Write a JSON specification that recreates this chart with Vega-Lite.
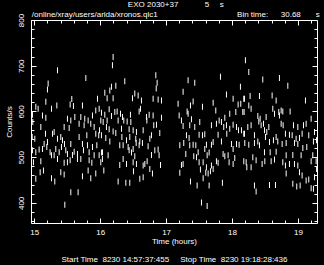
{
  "$schema": "https://vega.github.io/schema/vega-lite/v6.json",
  "autosize": "none",
  "width": 286,
  "height": 203,
  "padding": {"left": 31, "top": 20, "right": 7, "bottom": 42},
  "background": "black",
  "config": {
    "view": {"stroke": "white", "strokeWidth": 1},
    "font": "Liberation Sans",
    "axis": {"domain": false, "grid": false, "tickColor": "white", "tickWidth": 1, "labelColor": "white", "labelFont": "Liberation Sans", "labelFontSize": 8, "titleColor": "white", "titleFont": "Liberation Sans", "titleFontSize": 8, "titleFontWeight": "normal", "labelOverlap": false, "labelFlush": false}
  },
  "data": {"values": [
    {"t":15.352,"c":690},{"t":15.782,"c":673},{"t":15.210,"c":661},{"t":15.200,"c":648},{"t":15.175,"c":621},{"t":15.569,"c":627},{"t":15.959,"c":628},{"t":15.023,"c":610},{"t":15.058,"c":606},{"t":15.342,"c":613},{"t":15.261,"c":606},{"t":15.544,"c":615},{"t":15.594,"c":612},{"t":15.731,"c":613},{"t":15.984,"c":606},{"t":15.933,"c":602},{"t":15.883,"c":591},{"t":14.972,"c":593},{"t":15.124,"c":591},{"t":15.175,"c":586},{"t":15.503,"c":584},{"t":15.554,"c":580},{"t":15.615,"c":588},{"t":15.706,"c":588},{"t":15.766,"c":584},{"t":15.817,"c":580},{"t":15.680,"c":573},{"t":15.756,"c":570},{"t":15.857,"c":573},{"t":15.908,"c":566},{"t":15.990,"c":559},{"t":16.009,"c":580},{"t":14.977,"c":577},{"t":15.099,"c":566},{"t":15.453,"c":566},{"t":15.529,"c":564},{"t":15.170,"c":551},{"t":15.276,"c":551},{"t":15.301,"c":555},{"t":15.402,"c":544},{"t":15.352,"c":540},{"t":15.428,"c":537},{"t":15.680,"c":544},{"t":15.797,"c":548},{"t":15.933,"c":551},{"t":15.978,"c":548},{"t":14.968,"c":544},{"t":15.008,"c":540},{"t":15.149,"c":529},{"t":15.200,"c":533},{"t":15.458,"c":529},{"t":15.554,"c":529},{"t":15.731,"c":529},{"t":15.807,"c":526},{"t":15.883,"c":522},{"t":15.949,"c":526},{"t":14.972,"c":515},{"t":15.023,"c":511},{"t":15.073,"c":517},{"t":15.124,"c":518},{"t":15.190,"c":522},{"t":15.240,"c":511},{"t":15.261,"c":504},{"t":15.326,"c":518},{"t":15.377,"c":511},{"t":15.412,"c":522},{"t":15.478,"c":515},{"t":15.503,"c":507},{"t":15.579,"c":505},{"t":15.605,"c":512},{"t":15.655,"c":507},{"t":15.746,"c":515},{"t":15.832,"c":511},{"t":15.908,"c":504},{"t":15.984,"c":504},{"t":16.035,"c":511},{"t":14.987,"c":489},{"t":15.099,"c":491},{"t":15.301,"c":504},{"t":15.352,"c":496},{"t":15.453,"c":488},{"t":15.503,"c":489},{"t":15.544,"c":493},{"t":15.655,"c":496},{"t":15.706,"c":496},{"t":15.832,"c":493},{"t":15.873,"c":488},{"t":16.009,"c":489},{"t":15.023,"c":453},{"t":15.089,"c":467},{"t":15.139,"c":471},{"t":15.261,"c":454},{"t":15.311,"c":447},{"t":15.402,"c":467},{"t":15.453,"c":462},{"t":15.731,"c":458},{"t":15.817,"c":471},{"t":15.857,"c":454},{"t":15.933,"c":464},{"t":15.554,"c":423},{"t":15.665,"c":423},{"t":15.463,"c":396},
    {"t":16.196,"c":719},{"t":16.186,"c":701},{"t":16.844,"c":679},{"t":16.864,"c":663},{"t":16.373,"c":666},{"t":16.237,"c":656},{"t":16.171,"c":654},{"t":16.146,"c":646},{"t":16.070,"c":641},{"t":16.105,"c":629},{"t":16.196,"c":629},{"t":16.525,"c":639},{"t":16.576,"c":635},{"t":16.490,"c":629},{"t":16.626,"c":624},{"t":16.803,"c":628},{"t":16.879,"c":626},{"t":16.930,"c":624},{"t":16.850,"c":650},{"t":16.611,"c":606},{"t":16.591,"c":600},{"t":16.136,"c":605},{"t":16.019,"c":597},{"t":16.070,"c":593},{"t":16.171,"c":590},{"t":16.222,"c":599},{"t":16.257,"c":600},{"t":16.308,"c":595},{"t":16.338,"c":588},{"t":16.358,"c":580},{"t":16.459,"c":593},{"t":16.702,"c":588},{"t":16.743,"c":593},{"t":16.803,"c":591},{"t":16.930,"c":586},{"t":16.045,"c":577},{"t":16.105,"c":580},{"t":16.272,"c":580},{"t":16.409,"c":578},{"t":16.465,"c":577},{"t":16.708,"c":580},{"t":16.813,"c":570},{"t":16.854,"c":571},{"t":16.904,"c":553},{"t":16.095,"c":566},{"t":16.136,"c":561},{"t":16.196,"c":556},{"t":16.237,"c":553},{"t":16.323,"c":562},{"t":16.439,"c":561},{"t":16.500,"c":559},{"t":16.550,"c":555},{"t":16.652,"c":559},{"t":16.778,"c":548},{"t":16.019,"c":548},{"t":16.085,"c":542},{"t":16.146,"c":534},{"t":16.329,"c":544},{"t":16.399,"c":537},{"t":16.449,"c":544},{"t":16.540,"c":540},{"t":16.601,"c":534},{"t":16.546,"c":531},{"t":16.753,"c":540},{"t":16.297,"c":526},{"t":16.348,"c":526},{"t":16.424,"c":522},{"t":16.500,"c":518},{"t":16.591,"c":526},{"t":16.641,"c":531},{"t":16.727,"c":524},{"t":16.019,"c":510},{"t":16.120,"c":504},{"t":16.034,"c":496},{"t":16.439,"c":515},{"t":16.475,"c":510},{"t":16.525,"c":502},{"t":16.778,"c":505},{"t":16.829,"c":515},{"t":16.879,"c":517},{"t":16.894,"c":504},{"t":16.348,"c":496},{"t":16.399,"c":485},{"t":16.297,"c":483},{"t":16.500,"c":489},{"t":16.550,"c":485},{"t":16.652,"c":482},{"t":16.677,"c":485},{"t":16.712,"c":491},{"t":16.753,"c":474},{"t":16.793,"c":464},{"t":16.915,"c":483},{"t":16.055,"c":471},{"t":16.505,"c":469},{"t":16.272,"c":447},{"t":16.389,"c":444},{"t":16.449,"c":444},{"t":16.601,"c":453},{"t":16.652,"c":456},
    {"t":17.825,"c":676},{"t":17.334,"c":668},{"t":17.435,"c":663},{"t":18.128,"c":654},{"t":17.258,"c":643},{"t":17.916,"c":637},{"t":18.017,"c":628},{"t":18.179,"c":628},{"t":17.182,"c":617},{"t":17.410,"c":622},{"t":17.370,"c":613},{"t":17.552,"c":610},{"t":17.714,"c":619},{"t":18.093,"c":615},{"t":18.133,"c":617},{"t":17.754,"c":602},{"t":17.319,"c":600},{"t":17.334,"c":595},{"t":17.198,"c":591},{"t":17.966,"c":595},{"t":18.058,"c":599},{"t":18.184,"c":599},{"t":17.891,"c":586},{"t":17.233,"c":580},{"t":17.385,"c":583},{"t":17.511,"c":577},{"t":17.805,"c":580},{"t":17.840,"c":577},{"t":17.764,"c":573},{"t":17.916,"c":570},{"t":18.017,"c":571},{"t":18.068,"c":566},{"t":18.144,"c":559},{"t":17.258,"c":568},{"t":17.359,"c":570},{"t":17.435,"c":566},{"t":17.688,"c":570},{"t":17.875,"c":566},{"t":17.966,"c":562},{"t":17.309,"c":548},{"t":17.349,"c":542},{"t":17.501,"c":549},{"t":17.552,"c":548},{"t":17.587,"c":550},{"t":17.789,"c":549},{"t":18.098,"c":559},{"t":18.179,"c":551},{"t":17.921,"c":551},{"t":17.208,"c":526},{"t":17.268,"c":531},{"t":17.359,"c":526},{"t":17.410,"c":527},{"t":17.451,"c":526},{"t":17.612,"c":527},{"t":17.688,"c":527},{"t":17.714,"c":533},{"t":17.840,"c":534},{"t":17.992,"c":529},{"t":18.068,"c":529},{"t":18.108,"c":527},{"t":18.017,"c":518},{"t":17.587,"c":518},{"t":17.486,"c":511},{"t":17.653,"c":510},{"t":17.299,"c":507},{"t":17.420,"c":502},{"t":17.461,"c":500},{"t":17.623,"c":504},{"t":17.865,"c":507},{"t":17.891,"c":502},{"t":17.941,"c":504},{"t":18.042,"c":498},{"t":18.179,"c":491},{"t":17.258,"c":485},{"t":17.233,"c":483},{"t":17.501,"c":489},{"t":17.562,"c":489},{"t":17.612,"c":478},{"t":17.688,"c":482},{"t":17.764,"c":491},{"t":17.789,"c":488},{"t":17.956,"c":489},{"t":18.017,"c":485},{"t":17.521,"c":473},{"t":17.602,"c":466},{"t":17.638,"c":464},{"t":17.673,"c":469},{"t":17.714,"c":474},{"t":17.208,"c":466},{"t":17.562,"c":454},{"t":17.370,"c":447},{"t":17.471,"c":438},{"t":17.653,"c":438},{"t":17.855,"c":444},{"t":17.537,"c":401},{"t":17.623,"c":393},
    {"t":18.204,"c":712},{"t":18.255,"c":686},{"t":18.467,"c":670},{"t":18.720,"c":673},{"t":18.847,"c":656},{"t":18.189,"c":628},{"t":18.275,"c":634},{"t":18.417,"c":634},{"t":18.609,"c":635},{"t":18.670,"c":624},{"t":19.115,"c":624},{"t":18.164,"c":599},{"t":18.255,"c":613},{"t":18.290,"c":606},{"t":18.619,"c":606},{"t":18.645,"c":595},{"t":18.710,"c":599},{"t":18.746,"c":602},{"t":18.771,"c":600},{"t":18.882,"c":600},{"t":18.392,"c":590},{"t":18.427,"c":584},{"t":18.518,"c":588},{"t":18.720,"c":591},{"t":18.407,"c":578},{"t":18.442,"c":570},{"t":18.478,"c":573},{"t":18.559,"c":566},{"t":18.746,"c":573},{"t":18.776,"c":570},{"t":18.933,"c":570},{"t":18.999,"c":566},{"t":19.085,"c":570},{"t":19.125,"c":573},{"t":19.201,"c":584},{"t":18.240,"c":566},{"t":18.290,"c":570},{"t":18.341,"c":548},{"t":18.189,"c":551},{"t":18.493,"c":559},{"t":18.528,"c":555},{"t":18.508,"c":544},{"t":18.670,"c":544},{"t":18.811,"c":551},{"t":18.872,"c":549},{"t":18.913,"c":548},{"t":18.973,"c":540},{"t":19.024,"c":542},{"t":19.064,"c":551},{"t":19.165,"c":548},{"t":19.252,"c":555},{"t":18.194,"c":531},{"t":18.255,"c":527},{"t":18.341,"c":531},{"t":18.392,"c":534},{"t":18.417,"c":526},{"t":18.569,"c":533},{"t":18.629,"c":537},{"t":18.695,"c":534},{"t":18.761,"c":529},{"t":18.822,"c":531},{"t":18.948,"c":531},{"t":18.999,"c":529},{"t":19.075,"c":520},{"t":19.135,"c":522},{"t":19.236,"c":534},{"t":19.282,"c":537},{"t":18.579,"c":511},{"t":18.493,"c":511},{"t":18.670,"c":512},{"t":18.822,"c":504},{"t":18.923,"c":505},{"t":19.049,"c":504},{"t":19.226,"c":504},{"t":18.316,"c":500},{"t":18.366,"c":493},{"t":18.215,"c":489},{"t":18.225,"c":478},{"t":18.290,"c":478},{"t":18.457,"c":485},{"t":18.498,"c":491},{"t":18.594,"c":491},{"t":18.645,"c":495},{"t":18.771,"c":489},{"t":18.811,"c":482},{"t":18.872,"c":485},{"t":18.948,"c":485},{"t":18.999,"c":482},{"t":19.201,"c":491},{"t":19.277,"c":491},{"t":19.284,"c":474},{"t":18.822,"c":464},{"t":19.024,"c":467},{"t":19.064,"c":460},{"t":19.125,"c":449},{"t":19.165,"c":451},{"t":19.252,"c":456},{"t":18.341,"c":438},{"t":18.366,"c":425},{"t":18.569,"c":439},{"t":18.660,"c":439},{"t":18.923,"c":442},{"t":18.983,"c":436},{"t":19.034,"c":438},{"t":19.201,"c":432},{"t":19.236,"c":431}
  ]},
  "layer": [
    {
      "mark": {"type": "tick", "orient": "vertical", "size": 6, "thickness": 1, "color": "white", "opacity": 1},
      "encoding": {
        "x": {"field": "t", "type": "quantitative",
          "scale": {"domain": [14.95, 19.29], "nice": false, "zero": false},
          "axis": {"orient": "bottom",
            "values": [15,15.2,15.4,15.6,15.8,16,16.2,16.4,16.6,16.8,17,17.2,17.4,17.6,17.8,18,18.2,18.4,18.6,18.8,19,19.2],
            "labelExpr": "abs(datum.value - round(datum.value)) < 0.01 ? format(datum.value, 'd') : ''",
            "tickSize": {"condition": {"test": "abs(datum.value - round(datum.value)) < 0.01", "value": -5}, "value": -3},
            "labelPadding": 10,
            "title": ["Time (hours)", "Start Time\u00a0\u00a08230 14:57:37:455\u00a0\u00a0\u00a0\u00a0\u00a0Stop Time\u00a0\u00a08230 19:18:28:436"],
            "titlePadding": -1, "titleLineHeight": 18}},
        "y": {"field": "c", "type": "quantitative",
          "scale": {"domain": [356, 800], "nice": false, "zero": false},
          "axis": {"orient": "left",
            "values": [360,380,400,420,440,460,480,500,520,540,560,580,600,620,640,660,680,700,720,740,760,780,800],
            "labelExpr": "datum.value % 100 === 0 ? format(datum.value, 'd') : ''",
            "tickSize": {"condition": {"test": "datum.value % 100 === 0", "value": -5}, "value": -3},
            "labelAngle": -90, "labelAlign": "center", "labelBaseline": "middle", "labelPadding": 15,
            "title": "Counts/s", "titlePadding": 2}}
      }
    },
    {
      "mark": {"type": "tick", "orient": "vertical", "size": 6, "thickness": 1, "color": "white", "opacity": 0},
      "encoding": {
        "x": {"field": "t", "type": "quantitative",
          "axis": {"orient": "top", "labels": false, "title": null,
            "values": [15,15.2,15.4,15.6,15.8,16,16.2,16.4,16.6,16.8,17,17.2,17.4,17.6,17.8,18,18.2,18.4,18.6,18.8,19,19.2],
            "tickSize": {"condition": {"test": "abs(datum.value - round(datum.value)) < 0.01", "value": -5}, "value": -3}}},
        "y": {"field": "c", "type": "quantitative",
          "axis": {"orient": "right", "labels": false, "title": null,
            "values": [360,380,400,420,440,460,480,500,520,540,560,580,600,620,640,660,680,700,720,740,760,780,800],
            "tickSize": {"condition": {"test": "datum.value % 100 === 0", "value": -5}, "value": -3}}}
      }
    },
    {
      "data": {"values": [{}]},
      "mark": {"type": "text", "align": "left", "baseline": "middle", "color": "white", "font": "Liberation Sans", "fontSize": 8},
      "encoding": {"x": {"datum": 16.42, "type": "quantitative", "axis": null}, "y": {"datum": 833, "type": "quantitative", "axis": null}, "text": {"value": "EXO 2030+37"}}
    },
    {
      "data": {"values": [{}]},
      "mark": {"type": "text", "align": "left", "baseline": "middle", "color": "white", "font": "Liberation Sans", "fontSize": 8},
      "encoding": {"x": {"datum": 17.587, "type": "quantitative", "axis": null}, "y": {"datum": 833, "type": "quantitative", "axis": null}, "text": {"value": "5"}}
    },
    {
      "data": {"values": [{}]},
      "mark": {"type": "text", "align": "left", "baseline": "middle", "color": "white", "font": "Liberation Sans", "fontSize": 8},
      "encoding": {"x": {"datum": 17.815, "type": "quantitative", "axis": null}, "y": {"datum": 833, "type": "quantitative", "axis": null}, "text": {"value": "s"}}
    },
    {
      "data": {"values": [{}]},
      "mark": {"type": "text", "align": "left", "baseline": "middle", "color": "white", "font": "Liberation Sans", "fontSize": 8},
      "encoding": {"x": {"datum": 14.962, "type": "quantitative", "axis": null}, "y": {"datum": 811, "type": "quantitative", "axis": null}, "text": {"value": "/online/xray/users/arida/xronos.qlc1"}}
    },
    {
      "data": {"values": [{}]},
      "mark": {"type": "text", "align": "left", "baseline": "middle", "color": "white", "font": "Liberation Sans", "fontSize": 8},
      "encoding": {"x": {"datum": 18.077, "type": "quantitative", "axis": null}, "y": {"datum": 811, "type": "quantitative", "axis": null}, "text": {"value": "Bin time:"}}
    },
    {
      "data": {"values": [{}]},
      "mark": {"type": "text", "align": "left", "baseline": "middle", "color": "white", "font": "Liberation Sans", "fontSize": 8},
      "encoding": {"x": {"datum": 18.74, "type": "quantitative", "axis": null}, "y": {"datum": 811, "type": "quantitative", "axis": null}, "text": {"value": "30.68"}}
    },
    {
      "data": {"values": [{}]},
      "mark": {"type": "text", "align": "left", "baseline": "middle", "color": "white", "font": "Liberation Sans", "fontSize": 8},
      "encoding": {"x": {"datum": 19.272, "type": "quantitative", "axis": null}, "y": {"datum": 811, "type": "quantitative", "axis": null}, "text": {"value": "s"}}
    }
  ],
  "resolve": {"axis": {"x": "independent", "y": "independent"}}
}
